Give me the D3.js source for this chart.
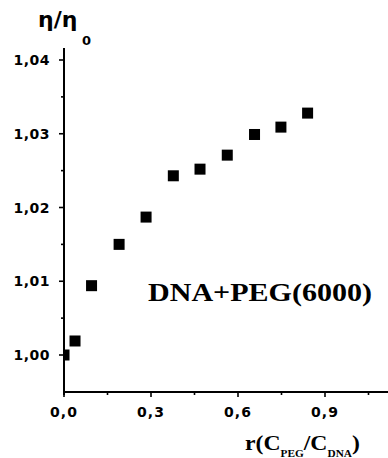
<!DOCTYPE html>
<html><head><meta charset="utf-8">
<script src="https://cdn.jsdelivr.net/npm/d3@7"></script>
<style>body{margin:0;background:#fff}svg{display:block}</style>
</head><body>
<script>
const rValues = [0.0, 0.038, 0.095, 0.19, 0.283, 0.377, 0.469, 0.563, 0.657, 0.748, 0.840];
const etaValues = [1.0000, 1.0019, 1.0094, 1.0150, 1.0187, 1.0243, 1.0252, 1.0271, 1.0299, 1.0309, 1.0328];
const xMajorTicks = [0, 0.3, 0.6, 0.9];
const xMinorTicks = [0.15, 0.45, 0.75, 1.05];
const yMajorTicks = [1.00, 1.01, 1.02, 1.03, 1.04];
const yMinorTicks = [1.005, 1.015, 1.025, 1.035];
const seriesLabel = "DNA+PEG(6000)";

const W = 388, H = 458;
const svg = d3.select("body").append("svg").attr("width", W).attr("height", H);
const x = d3.scaleLinear().domain([0, 1]).range([64, 354]);
const y = d3.scaleLinear().domain([1.00, 1.04]).range([355, 60]);
const x0 = 64, yBottom = 392, yTop = 48, xRight = 388;
const fmt = d => d3.format(".2f")(d).replace(".", ",");
const fmtX = d => d3.format(".1f")(d).replace(".", ",");

svg.append("defs").append("clipPath").attr("id", "plotclip")
  .append("rect").attr("x", x0).attr("y", yTop).attr("width", xRight - x0).attr("height", yBottom - yTop);

const g = svg.append("g");
const s = 11;
g.append("g").attr("clip-path", "url(#plotclip)")
  .selectAll("rect.pt").data(rValues.map((r, i) => [r, etaValues[i]])).enter().append("rect")
  .attr("class", "pt")
  .attr("x", d => x(d[0]) - s / 2).attr("y", d => y(d[1]) - s / 2)
  .attr("width", s).attr("height", s).attr("fill", "#000");

g.append("line").attr("x1", x0).attr("x2", x0).attr("y1", yTop).attr("y2", yBottom + 3)
  .attr("stroke", "#000").attr("stroke-width", 2);
g.append("line").attr("x1", x0 - 1).attr("x2", xRight).attr("y1", yBottom).attr("y2", yBottom)
  .attr("stroke", "#000").attr("stroke-width", 2);

const tickFont = "'DejaVu Sans', sans-serif";
yMajorTicks.forEach(v => {
  g.append("line").attr("x1", x0 - 5).attr("x2", x0).attr("y1", y(v)).attr("y2", y(v))
    .attr("stroke", "#000").attr("stroke-width", 1.6);
  g.append("text").attr("x", 50).attr("y", y(v)).attr("dy", "0.36em")
    .attr("text-anchor", "end").attr("font-family", tickFont).attr("font-weight", "bold")
    .attr("font-size", 14).attr("letter-spacing", 0.5).text(fmt(v));
});
yMinorTicks.forEach(v => {
  g.append("line").attr("x1", x0 - 3).attr("x2", x0).attr("y1", y(v)).attr("y2", y(v))
    .attr("stroke", "#000").attr("stroke-width", 1.6);
});
xMajorTicks.forEach(v => {
  g.append("line").attr("x1", x(v)).attr("x2", x(v)).attr("y1", yBottom).attr("y2", yBottom + 5)
    .attr("stroke", "#000").attr("stroke-width", 1.6);
  g.append("text").attr("x", x(v)).attr("y", 417)
    .attr("text-anchor", "middle").attr("font-family", tickFont).attr("font-weight", "bold")
    .attr("font-size", 14).attr("letter-spacing", 1).text(fmtX(v));
});
xMinorTicks.forEach(v => {
  g.append("line").attr("x1", x(v)).attr("x2", x(v)).attr("y1", yBottom).attr("y2", yBottom + 3)
    .attr("stroke", "#000").attr("stroke-width", 1.6);
});

// y label
const yl = svg.append("text").attr("x", 38).attr("y", 27)
  .attr("font-family", tickFont).attr("font-weight", "bold").attr("font-size", 22);
yl.append("tspan").text("η/η");
yl.append("tspan").attr("x", 82).attr("y", 45).attr("font-size", 13).text("0");

// x label
const serif = "'Liberation Serif', 'Times New Roman', serif";
const xl = svg.append("text").attr("transform", "translate(245,450) scale(1.13,1)")
  .attr("font-family", serif).attr("font-weight", "bold").attr("font-size", 21);
xl.append("tspan").text("r(C");
xl.append("tspan").attr("dy", 7).attr("font-size", 10).text("PEG");
xl.append("tspan").attr("dy", -7).text("/C");
xl.append("tspan").attr("dy", 7).attr("font-size", 10).text("DNA");
xl.append("tspan").attr("dy", -7).text(")");

// series label
svg.append("text").attr("x", 148).attr("y", 301)
  .attr("font-family", serif).attr("font-weight", "bold")
  .attr("font-size", 25).attr("textLength", 224).attr("lengthAdjust", "spacingAndGlyphs")
  .text(seriesLabel);
</script>
</body></html>
